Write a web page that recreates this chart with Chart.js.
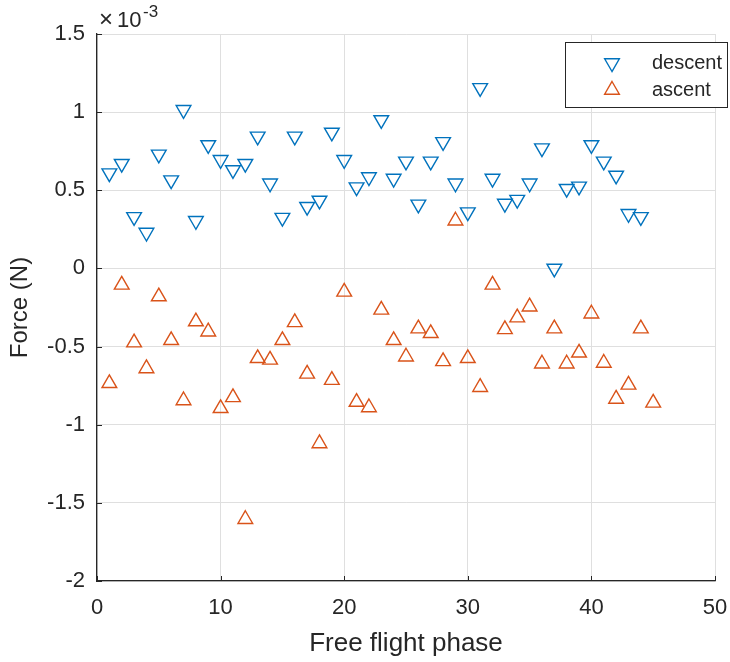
<!DOCTYPE html>
<html>
<head>
<meta charset="utf-8">
<title>Force per free flight phase</title>
<script src="https://cdn.jsdelivr.net/npm/chart.js@4/dist/chart.umd.min.js"></script>
<style>
  html, body { margin: 0; padding: 0; background: #ffffff; }
  #wrap { width: 730px; height: 662px; }
</style>
</head>
<body>
<div id="wrap"><canvas id="forceChart" width="730" height="662"></canvas></div>
<script>
// Data (force values in units of 1e-3 N)
const seriesNames = ["descent", "ascent"];
const phaseDescent = [1,2,3,4,5,6,7,8,9,10,11,12,13,14,15,16,17,18,19,20,21,22,
                      23,24,25,26,27,28,29,30,31,32,33,34,35,36,37,38,39,40,41,42,43,44];
const forceDescent = [0.61,0.67,0.33,0.23,0.73,0.565,1.015,0.305,0.79,0.695,0.63,0.67,
                      0.845,0.545,0.325,0.845,0.395,0.435,0.87,0.695,0.52,0.585,0.95,0.575,
                      0.685,0.41,0.685,0.81,0.545,0.36,1.155,0.575,0.415,0.44,0.545,0.77,
                      0.0,0.51,0.525,0.79,0.685,0.595,0.35,0.33];
const phaseAscent = [1,2,3,4,5,6,7,8,9,10,11,12,13,14,15,16,17,18,19,20,21,22,
                     23,24,25,26,27,28,29,30,31,32,33,34,35,36,37,38,39,40,41,42,43,44,45];
const forceAscent = [-0.735,-0.105,-0.475,-0.64,-0.18,-0.46,-0.845,-0.34,-0.405,-0.895,
                     -0.825,-1.605,-0.575,-0.585,-0.46,-0.345,-0.675,-1.12,-0.715,-0.15,
                     -0.855,-0.89,-0.265,-0.46,-0.565,-0.385,-0.415,-0.595,0.305,-0.575,
                     -0.76,-0.105,-0.39,-0.315,-0.245,-0.61,-0.385,-0.61,-0.54,-0.29,
                     -0.605,-0.835,-0.745,-0.385,-0.86];
const xTicks = [0, 10, 20, 30, 40, 50];
const yTicks = [-2, -1.5, -1, -0.5, 0, 0.5, 1, 1.5];
const yExponent = "-3";

const axisColor = "#262626";
const gridColor = "#dfdfdf";
const blue = "#0072BD";
const orange = "#D95319";
const fontFamily = "'Liberation Sans', Arial, sans-serif";

function toPoints(xs, ys) {
    return xs.map((x, i) => ({ x: x, y: ys[i] }));
}

// inward tick marks, like the original axes
const innerTicks = {
    id: "innerTicks",
    afterDraw(chart) {
        const ctx = chart.ctx;
        const area = chart.chartArea;
        const xs = chart.scales.x, ys = chart.scales.y;
        ctx.save();
        ctx.strokeStyle = axisColor;
        ctx.lineWidth = 1;
        xTicks.forEach(v => {
            const px = Math.round(xs.getPixelForValue(v)) + 0.5;
            ctx.beginPath();
            ctx.moveTo(px, area.bottom);
            ctx.lineTo(px, area.bottom - 5);
            ctx.stroke();
        });
        yTicks.forEach(v => {
            const py = Math.round(ys.getPixelForValue(v)) + 0.5;
            ctx.beginPath();
            ctx.moveTo(area.left, py);
            ctx.lineTo(area.left + 5, py);
            ctx.stroke();
        });
        ctx.restore();
    }
};

// "x10^-3" above the y axis
const exponentLabel = {
    id: "exponentLabel",
    afterDraw(chart) {
        const ctx = chart.ctx;
        const left = chart.chartArea.left;
        ctx.save();
        ctx.fillStyle = axisColor;
        ctx.textBaseline = "alphabetic";
        ctx.textAlign = "left";
        ctx.font = "24px " + fontFamily;
        ctx.fillText("\u00d7", left + 2, 27);
        ctx.font = "22px " + fontFamily;
        ctx.fillText("10", left + 20, 27);
        ctx.font = "17px " + fontFamily;
        ctx.fillText(yExponent, left + 46, 17);
        ctx.restore();
    }
};

// boxed legend in the top right corner
const boxLegend = {
    id: "boxLegend",
    afterDraw(chart) {
        const ctx = chart.ctx;
        const box = { left: 565, top: 42, right: 728, bottom: 108 };
        ctx.save();
        ctx.fillStyle = "#ffffff";
        ctx.fillRect(box.left, box.top, box.right - box.left, box.bottom - box.top);
        ctx.strokeStyle = axisColor;
        ctx.lineWidth = 1;
        ctx.strokeRect(box.left + 0.5, box.top + 0.5, box.right - box.left - 1, box.bottom - box.top - 1);
        ctx.font = "20px " + fontFamily;
        ctx.textBaseline = "middle";
        ctx.textAlign = "left";
        chart.data.datasets.forEach((ds, i) => {
            const y = box.top + 21 + i * 27;
            ctx.strokeStyle = ds.borderColor;
            ctx.fillStyle = "rgba(0,0,0,0)";
            ctx.lineWidth = ds.borderWidth;
            Chart.helpers.drawPoint(ctx, {
                pointStyle: ds.pointStyle,
                rotation: ds.pointRotation,
                radius: ds.pointRadius,
                borderWidth: ds.borderWidth
            }, 612, y);
            ctx.fillStyle = axisColor;
            ctx.fillText(ds.label, 652, y);
        });
        ctx.restore();
    }
};

const ctx = document.getElementById("forceChart").getContext("2d");
new Chart(ctx, {
    type: "scatter",
    data: {
        datasets: [
            {
                label: seriesNames[0],
                data: toPoints(phaseDescent, forceDescent),
                pointStyle: "triangle",
                pointRotation: 180,
                pointRadius: 8.5,
                borderWidth: 1.4,
                borderColor: blue,
                backgroundColor: "rgba(0,0,0,0)"
            },
            {
                label: seriesNames[1],
                data: toPoints(phaseAscent, forceAscent),
                pointStyle: "triangle",
                pointRotation: 0,
                pointRadius: 8.5,
                borderWidth: 1.4,
                borderColor: orange,
                backgroundColor: "rgba(0,0,0,0)"
            }
        ]
    },
    options: {
        responsive: false,
        animation: false,
        devicePixelRatio: 1,
        layout: { padding: { left: 0, top: 34, right: 15, bottom: 0 } },
        plugins: {
            legend: { display: false },
            tooltip: { enabled: false }
        },
        scales: {
            x: {
                type: "linear",
                min: 0, max: 50,
                afterFit: s => { s.height = 81; s.paddingLeft = 0; s.paddingRight = 0; },
                afterBuildTicks: s => { s.ticks = xTicks.map(v => ({ value: v })); },
                ticks: {
                    color: axisColor,
                    padding: 14,
                    font: { family: fontFamily, size: 22 },
                    callback: v => String(v)
                },
                grid: { color: gridColor, lineWidth: 1, drawTicks: false },
                border: { display: true, color: axisColor, width: 1.3 },
                title: {
                    display: true,
                    text: "Free flight phase",
                    color: axisColor,
                    padding: { top: 0, bottom: 3 },
                    font: { family: fontFamily, size: 26 }
                }
            },
            y: {
                type: "linear",
                min: -2, max: 1.5,
                afterFit: s => { s.width = 97; },
                afterBuildTicks: s => { s.ticks = yTicks.map(v => ({ value: v })); },
                ticks: {
                    color: axisColor,
                    padding: 12,
                    font: { family: fontFamily, size: 22 },
                    callback: v => String(v)
                },
                grid: { color: gridColor, lineWidth: 1, drawTicks: false },
                border: { display: true, color: axisColor, width: 1.3 },
                title: {
                    display: true,
                    text: "Force (N)",
                    color: axisColor,
                    padding: { top: 6, bottom: 0 },
                    font: { family: fontFamily, size: 24 }
                }
            }
        }
    },
    plugins: [innerTicks, exponentLabel, boxLegend]
});
</script>
</body>
</html>
